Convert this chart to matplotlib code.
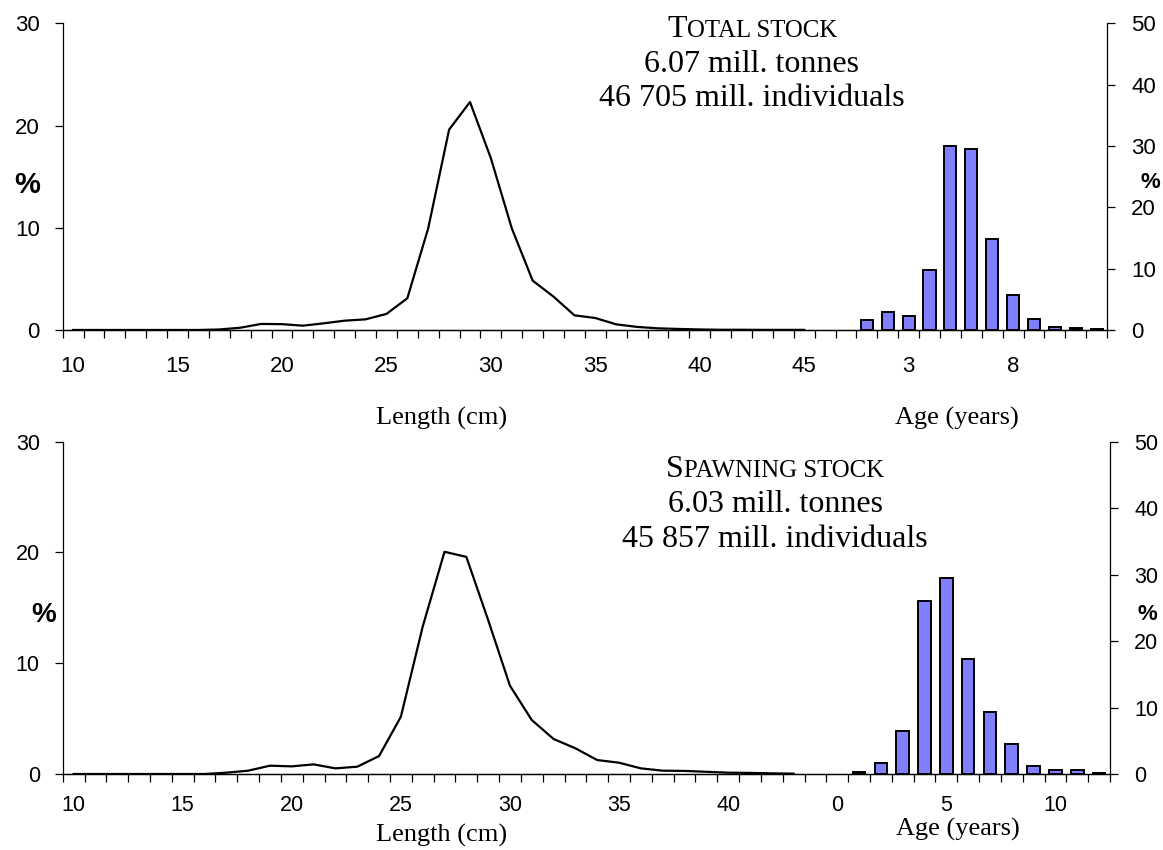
import matplotlib.pyplot as plt
from matplotlib.ticker import FixedLocator

# lengths 10..45 cm, percent (total stock)
total_len = [0, 0, 0, 0, 0, 0, 0, 0.05, 0.22, 0.59, 0.57, 0.42, 0.65, 0.91, 1.04, 1.57,
             3.1, 9.95, 19.6, 22.3, 16.8, 9.95, 4.83, 3.26, 1.43, 1.17, 0.55, 0.3,
             0.16, 0.1, 0.05, 0.02, 0.02, 0.01, 0.01, 0.01]
# ages 1..12, percent (total stock)
total_age = [1.63, 2.88, 2.34, 9.78, 30.0, 29.45, 14.84, 5.7, 1.79, 0.54, 0.33, 0.22]

# lengths 10..43 cm, percent (spawning stock)
spawn_len = [0, 0, 0, 0, 0, 0, 0, 0.12, 0.3, 0.75, 0.69, 0.87, 0.51, 0.66, 1.62, 5.17,
             13.3, 20.06, 19.6, 13.9, 7.97, 4.87, 3.16, 2.32, 1.26, 1.02, 0.51, 0.3,
             0.28, 0.2, 0.12, 0.1, 0.06, 0.03]
# ages 1..12, percent (spawning stock)
spawn_age = [0.35, 1.65, 6.54, 26.0, 29.55, 17.25, 9.35, 4.55, 1.15, 0.65, 0.55, 0.15]

top_ticklabels = ["10", "15", "20", "25", "30", "35", "40", "45", "3", "8"]
bot_ticklabels = ["10", "15", "20", "25", "30", "35", "40", "0", "5", "10"]

bar_color = "#8080ff"
sans = "Liberation Sans"
serif = "Liberation Serif"

fig = plt.figure(figsize=(11.63, 8.5), dpi=100)


def panel(rect, lens, ages, first_age_pos, ncat, ticklabels, tsize, xpad):
    ax = fig.add_axes(rect)
    ax.plot(range(len(lens)), lens, color="black", lw=1.6)
    ax.set_xlim(-0.5, ncat - 0.5)
    ax.set_ylim(0, 30)
    ax.set_yticks([0, 10, 20, 30])
    ax.spines["top"].set_visible(False)
    ax.spines["right"].set_visible(False)
    ax.xaxis.set_major_locator(FixedLocator(list(range(0, ncat, 5))))
    ax.set_xticklabels(ticklabels, fontsize=tsize, family=sans)
    ax.xaxis.set_minor_locator(FixedLocator([i - 0.5 for i in range(ncat + 1)]))
    ax.tick_params(axis="x", which="major", length=0, pad=xpad)
    ax.tick_params(axis="x", which="minor", length=5.5, width=0.9, direction="out")
    ax.tick_params(axis="y", length=5.5, width=0.9, pad=11, labelsize=tsize)
    for lab in ax.get_yticklabels():
        lab.set_family(sans)

    ax2 = ax.twinx()
    pos = [first_age_pos + i for i in range(len(ages))]
    ax2.bar(pos, ages, width=0.58, color=bar_color, edgecolor="black", lw=1.4, zorder=3)
    ax2.set_ylim(0, 50)
    ax2.set_xlim(-0.5, ncat - 0.5)
    ax2.set_yticks([0, 10, 20, 30, 40, 50])
    ax2.spines["top"].set_visible(False)
    ax2.spines["left"].set_visible(False)
    ax2.tick_params(axis="y", length=5.5, width=0.9, pad=12, labelsize=tsize)
    for lab in ax2.get_yticklabels():
        lab.set_family(sans)
    for a in (ax, ax2):
        for s in a.spines.values():
            s.set_linewidth(0.9)
    return ax


panel([0.0539, 0.6118, 0.898, 0.3608], total_len, total_age, 38, 50,
      top_ticklabels, 16, 19)
panel([0.0539, 0.0894, 0.9005, 0.391], spawn_len, spawn_age, 36, 48,
      bot_ticklabels, 15.5, 15)

# axis titles
for y in (418, 835):
    fig.text(442 / 1163, 1 - y / 850, "Length (cm)", family=serif, fontsize=19,
             ha="center", va="center")
fig.text(957 / 1163, 1 - 418 / 850, "Age (years)", family=serif, fontsize=19,
         ha="center", va="center")
fig.text(958 / 1163, 1 - 829 / 850, "Age (years)", family=serif, fontsize=19,
         ha="center", va="center")

# % labels
fig.text(27 / 1163, 1 - 185 / 850, "%", family=sans, fontsize=21, weight="bold",
         ha="center", va="center")
fig.text(44 / 1163, 1 - 615 / 850, "%", family=sans, fontsize=20, weight="bold",
         ha="center", va="center")
fig.text(1150 / 1163, 1 - 183 / 850, "%", family=sans, fontsize=16, weight="bold",
         ha="center", va="center")
fig.text(1147 / 1163, 1 - 615 / 850, "%", family=sans, fontsize=16, weight="bold",
         ha="center", va="center")

renderer = fig.canvas.get_renderer()


def small_caps(cx, cy, first, rest, size):
    # first letter full size, rest in smaller capitals, centred on cx
    t1 = fig.text(0, 1 - cy / 850, first, family=serif, fontsize=size, va="baseline")
    t2 = fig.text(0, 1 - cy / 850, rest, family=serif, fontsize=size * 0.78, va="baseline")
    w1 = t1.get_window_extent(renderer).width
    w2 = t2.get_window_extent(renderer).width
    x0 = cx - (w1 + w2) / 2
    t1.set_x(x0 / 1163)
    t2.set_x((x0 + w1) / 1163)


small_caps(752, 37, "T", "OTAL STOCK", 23)
fig.text(752 / 1163, 1 - 72 / 850, "6.07 mill. tonnes", family=serif, fontsize=23,
         ha="center", va="baseline")
fig.text(752 / 1163, 1 - 106 / 850, "46 705 mill. individuals", family=serif, fontsize=23,
         ha="center", va="baseline")

small_caps(775, 477, "S", "PAWNING STOCK", 23)
fig.text(775 / 1163, 1 - 512 / 850, "6.03 mill. tonnes", family=serif, fontsize=23,
         ha="center", va="baseline")
fig.text(775 / 1163, 1 - 547 / 850, "45 857 mill. individuals", family=serif, fontsize=23,
         ha="center", va="baseline")

fig.savefig("out.png", dpi=100)
